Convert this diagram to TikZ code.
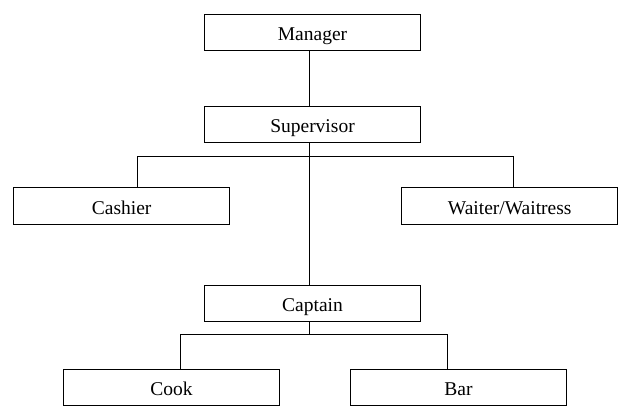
\documentclass[tikz,border=0pt]{standalone}
\usepackage{fontspec}
\setmainfont{LiberationSerif-Regular.ttf}
\usepackage{tikz}
\usetikzlibrary{calc, positioning}

\begin{document}
\begin{tikzpicture}[x=1pt, y=-1pt,
        post/.style={draw, line width=0.9pt, minimum width=216pt, minimum height=36.5pt, inner sep=0pt,
            text height=18pt, text depth=1.4pt, font=\rmfamily\fontsize{19.5}{23}\selectfont}]
            \useasboundingbox (0, 0) rectangle (624, 408);
            \node[post] (manager) at (312.5, 32.3) {Manager};
            \node[post] (supervisor) at (312.5, 124.5) {Supervisor};
            \node[post] (cashier) at (121.7, 206) {Cashier};
            \node[post] (waiter) at (509.7, 206) {Waiter/Waitress};
            \node[post] (captain) at (312.5, 303.2) {Captain};
            \node[post] (cook) at (171.5, 387.3) {Cook};
            \node[post] (bar) at (458.5, 387.3) {Bar};
            \coordinate (spine) at (309, 156.7);
            \coordinate (fork) at (309, 334.3);
            \begin{scope}[line width=0.9pt]
            \draw (manager.south -| spine) -- (supervisor.north -| spine);
            \draw (supervisor.south -| spine) -- (captain.north -| spine);
            \draw ([xshift=16pt]cashier.north) |- (spine) -| ([xshift=4pt]waiter.north);
            \draw (captain.south -| fork) -- (fork);
            \draw ([xshift=8.5pt]cook.north) |- (fork) -| ([xshift=-11.5pt]bar.north);
            \end{scope}
        \end{tikzpicture}
\end{document}
